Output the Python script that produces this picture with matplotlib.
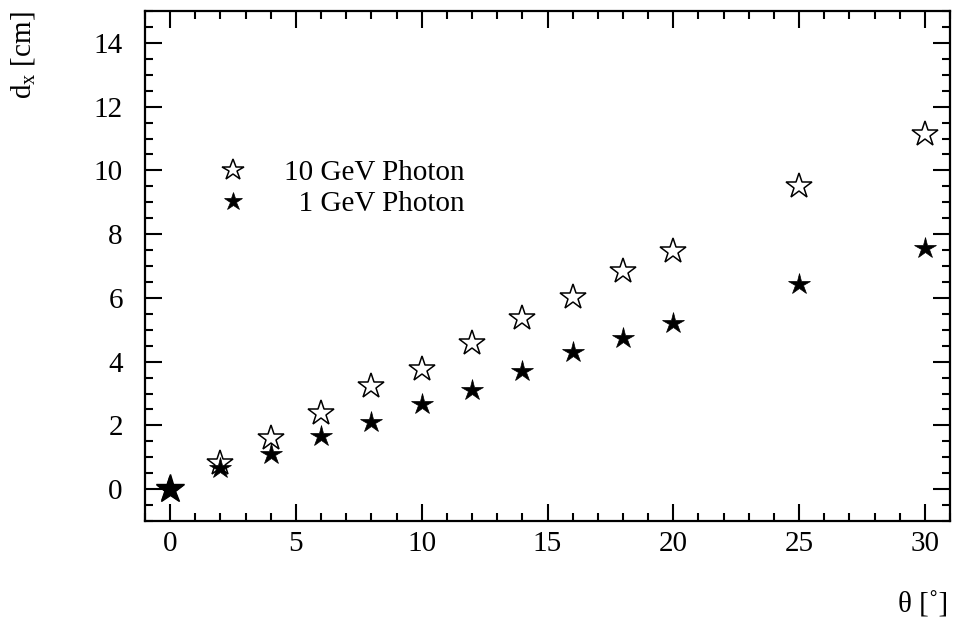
import numpy as np
import matplotlib
matplotlib.use("Agg")
import matplotlib.pyplot as plt
from matplotlib.ticker import MultipleLocator

plt.rcParams["font.family"] = ["Liberation Serif", "DejaVu Serif"]
plt.rcParams["mathtext.fontset"] = "custom"
plt.rcParams["mathtext.rm"] = "Liberation Serif"
plt.rcParams["mathtext.it"] = "Liberation Serif"

# incidence angle [deg] and lateral shift d_x [cm]
theta = [0, 2, 4, 6, 8, 10, 12, 14, 16, 18, 20, 25, 30]
dx_10gev = [0.0, 0.82, 1.60, 2.40, 3.22, 3.77, 4.60, 5.38, 6.04, 6.85, 7.48, 9.50, 11.15]
dx_1gev = [0.0, 0.66, 1.10, 1.67, 2.10, 2.68, 3.12, 3.70, 4.31, 4.75, 5.22, 6.45, 7.55]

fs = 21

fig = plt.figure(figsize=(9.54, 6.18), dpi=100)
ax = fig.add_axes([145 / 954, 1 - 521 / 618, 805 / 954, 510 / 618])

ax.plot(theta, dx_10gev, ls="none", marker="*", ms=19, mfc="white", mec="black",
        mew=1.1, label="10 GeV Photon")
ax.plot(theta, dx_1gev, ls="none", marker="*", ms=16, mfc="black", mec="black",
        mew=0.5, label="  1 GeV Photon")
# origin point drawn a bit larger on top
ax.plot(theta[:1], dx_1gev[:1], ls="none", marker="*", ms=21, color="black")

ax.set_xlim(-1, 31)
ax.set_ylim(-1, 15)
ax.xaxis.set_major_locator(MultipleLocator(5))
ax.xaxis.set_minor_locator(MultipleLocator(1))
ax.yaxis.set_major_locator(MultipleLocator(2))
ax.yaxis.set_minor_locator(MultipleLocator(0.5))
ax.tick_params(which="both", direction="in", top=True, right=True, width=1.5, labelsize=fs)
ax.tick_params(axis="x", which="major", length=12, pad=7)
ax.tick_params(axis="y", which="major", length=12, pad=16)
ax.tick_params(which="minor", length=6)
for sp in ax.spines.values():
    sp.set_linewidth(1.6)

ax.legend(loc="upper left", bbox_to_anchor=(0.066, 0.748), frameon=False, fontsize=fs,
          markerscale=0.85, handlelength=1.0, handletextpad=1.25, labelspacing=0.15,
          borderpad=0.2)

fig.text(23 / 954, 1 - 11 / 618, r"d$_{\mathrm{x}}$ [cm]", rotation=90, ha="center",
         va="top", fontsize=fs)
fig.text(948 / 954, 1 - 605 / 618, "θ [˚]", ha="right", va="center", fontsize=fs)

fig.savefig("out.png", dpi=100)
